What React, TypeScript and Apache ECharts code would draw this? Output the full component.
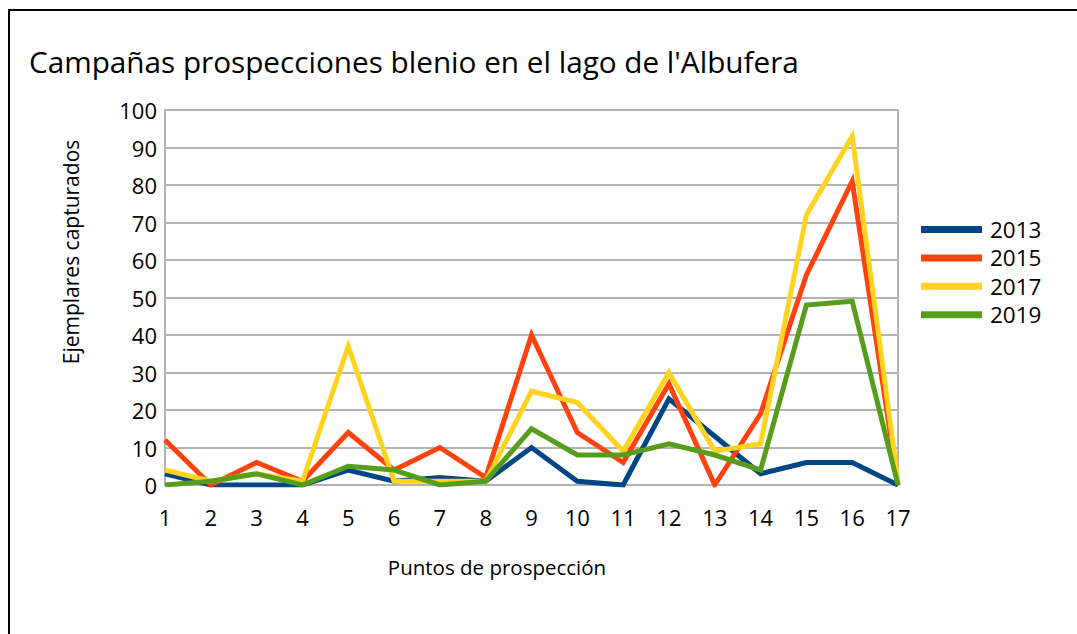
import React, { useEffect, useRef } from "react";
import * as echarts from "echarts";

const categories = ["1", "2", "3", "4", "5", "6", "7", "8", "9", "10", "11", "12", "13", "14", "15", "16", "17"];
const seriesNames = ["2013", "2015", "2017", "2019"];
const values2013 = [3, 0, 0, 0, 4, 1, 2, 1, 10, 1, 0, 23, 13, 3, 6, 6, 0];
const values2015 = [12, 0, 6, 1, 14, 4, 10, 2, 40, 14, 6, 27, 0, 19, 56, 81, 0];
const values2017 = [4, 1, 3, 1, 37, 1, 1, 1, 25, 22, 9, 30, 9, 11, 72, 93, 1];
const values2019 = [0, 1, 3, 0, 5, 4, 0, 1, 15, 8, 8, 11, 8, 4, 48, 49, 0];
const colors = ["#004586", "#ff420e", "#ffd320", "#579d1c"];

const titleText = "Campañas prospecciones blenio en el lago de l'Albufera";
const yAxisName = "Ejemplares capturados";
const xAxisName = "Puntos de prospección";

const FONT = "'Open Sans', 'Noto Sans', sans-serif";

export default function App() {
  const ref = useRef<HTMLDivElement>(null);
  useEffect(() => {
    if (!ref.current) return;
    const chart = echarts.init(ref.current, undefined, { renderer: "svg" });
    const allValues = [values2013, values2015, values2017, values2019];
    chart.setOption({
      animation: false,
      backgroundColor: "#ffffff",
      title: {
        text: titleText,
        left: 29,
        top: 46,
        padding: 0,
        textStyle: { fontFamily: FONT, fontSize: 29.7, fontWeight: "normal", color: "#000" },
      },
      legend: {
        orient: "vertical",
        left: 921,
        top: 218,
        padding: 0,
        itemWidth: 61,
        itemHeight: 7,
        itemGap: 5.4,
        icon: "rect",
        data: seriesNames,
        textStyle: { fontFamily: FONT, fontSize: 22.5, lineHeight: 23, color: "#000", padding: [0, 0, 0, 3] },
      },
      grid: {
        left: 165,
        right: 179,
        top: 110,
        bottom: 149,
        show: true,
        borderColor: "#b3b3b3",
        borderWidth: 2,
        backgroundColor: "transparent",
      },
      xAxis: {
        type: "category",
        data: categories,
        boundaryGap: false,
        axisLine: { show: true, lineStyle: { color: "#b3b3b3", width: 2 } },
        axisTick: { show: false },
        axisLabel: { fontFamily: FONT, fontSize: 22, color: "#000", margin: 21 },
        splitLine: { show: false },
      },
      yAxis: {
        type: "value",
        min: 0,
        max: 100,
        interval: 10,
        axisLine: { show: true, lineStyle: { color: "#b3b3b3", width: 2 } },
        axisTick: { show: false },
        axisLabel: { fontFamily: FONT, fontSize: 22, color: "#000", margin: 8 },
        splitLine: { show: true, lineStyle: { color: "#b3b3b3", width: 2 } },
      },
      graphic: [
        { type: "line", shape: { x1: 8, y1: 10, x2: 1077, y2: 10 }, style: { stroke: "#000", lineWidth: 2 } },
        { type: "line", shape: { x1: 9, y1: 9, x2: 9, y2: 634 }, style: { stroke: "#000", lineWidth: 2 } },
        {
          type: "text",
          x: 71,
          y: 252,
          rotation: Math.PI / 2,
          style: {
            text: yAxisName,
            font: `21px ${FONT}`,
            fill: "#000",
            align: "center",
            verticalAlign: "middle",
            textAlign: "center",
            textVerticalAlign: "middle",
          },
        },
        {
          type: "text",
          x: 497,
          y: 567,
          style: {
            text: xAxisName,
            font: `20.5px ${FONT}`,
            fill: "#000",
            align: "center",
            verticalAlign: "middle",
            textAlign: "center",
            textVerticalAlign: "middle",
          },
        },
      ],
      series: seriesNames.map((name, i) => ({
        name,
        type: "line",
        data: allValues[i],
        showSymbol: false,
        symbol: "none",
        color: colors[i],
        lineStyle: { width: 5, color: colors[i], join: "miter" },
        z: 2 + i,
      })),
    });
    return () => chart.dispose();
  }, []);
  return (
    <div
      ref={ref}
      style={{ position: "fixed", left: 0, top: 0, width: 1077, height: 634 }}
    />
  );
}
